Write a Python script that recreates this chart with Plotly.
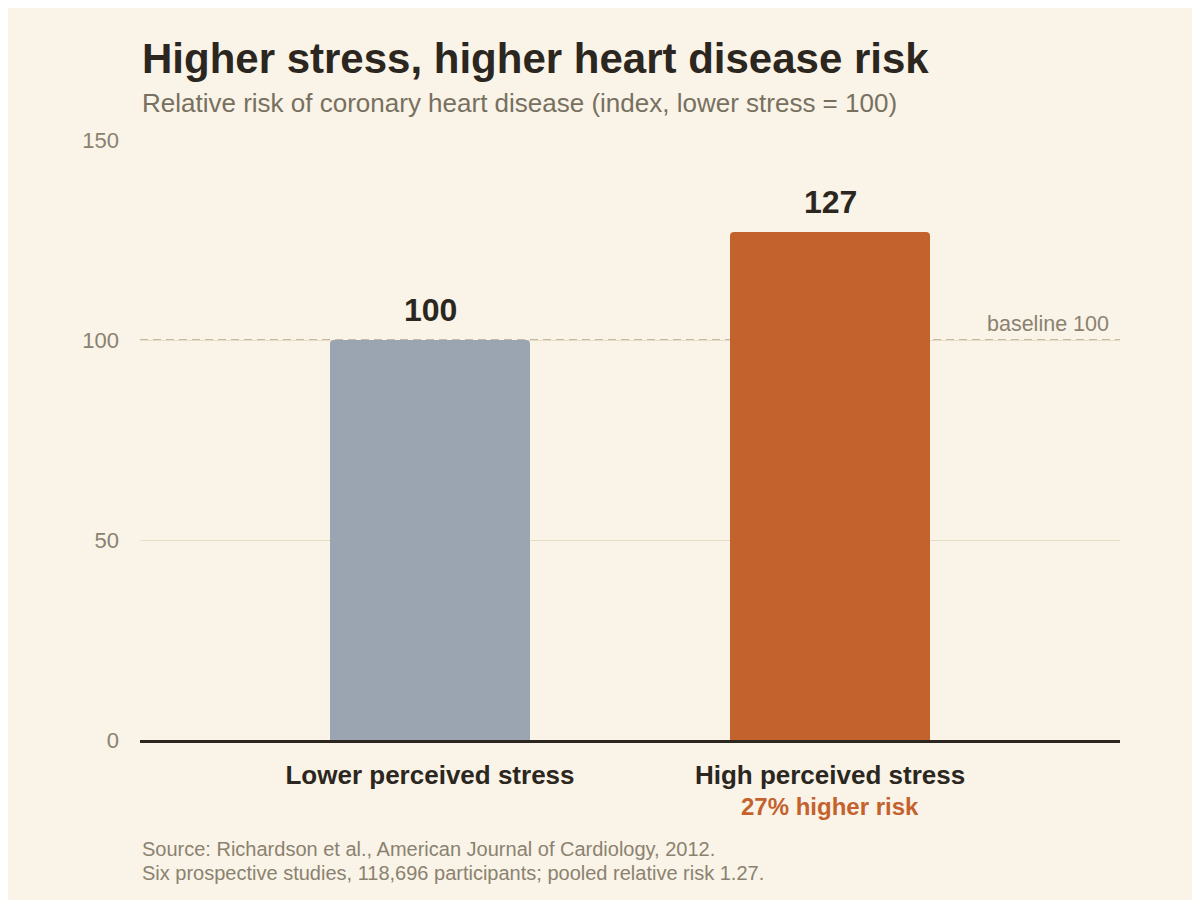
import plotly.graph_objects as go

# données
categories = ["Lower perceived stress", "High perceived stress"]
risk_index = [100, 127]
bar_colors = ["#9AA5B1", "#C4622D"]
y_ticks = [0, 50, 100, 150]
baseline = 100

BG = "#FAF3E7"
INK = "#2B2720"
MUTED = "#8A8270"
FONT = "Liberation Sans, Arial, sans-serif"

fig = go.Figure(go.Bar(
    x=categories, y=risk_index,
    width=0.5,
    marker=dict(color=bar_colors, cornerradius=4, line=dict(width=0)),
    cliponaxis=False, hoverinfo="skip",
))

# étiquettes de valeur au-dessus des barres
for cat, val in zip(categories, risk_index):
    fig.add_annotation(
        x=cat, y=val, text=str(val), showarrow=False, yanchor="middle", yshift=30,
        font=dict(size=32, color=INK, family=FONT, weight="bold"),
    )

# ligne de référence pointillée, sous les barres
fig.add_shape(
    type="line", xref="paper", x0=0, x1=1, yref="y", y0=baseline, y1=baseline,
    line=dict(color="#B3A98F", width=1.3, dash="8px,5px"), layer="below",
)
fig.add_annotation(
    xref="paper", x=0.991, y=baseline, yref="y", text=f"baseline {baseline}",
    showarrow=False, xanchor="right", yanchor="bottom", yshift=2,
    font=dict(size=21.5, color=MUTED, family=FONT),
)

# note sous la 2e catégorie
fig.add_annotation(
    x=categories[1], xref="x", yref="paper", y=0, yshift=-66,
    text="27% higher risk", showarrow=False, yanchor="middle",
    font=dict(size=24, color="#C4622D", family=FONT, weight="bold"),
)

fig.add_annotation(
    xref="paper", yref="paper", x=0, y=1, xanchor="left", yanchor="middle",
    yshift=82, text="Higher stress, higher heart disease risk", showarrow=False,
    font=dict(size=42, color=INK, family=FONT, weight="bold"),
)
fig.add_annotation(
    xref="paper", yref="paper", x=0, y=1, xanchor="left", yanchor="middle",
    yshift=37, text="Relative risk of coronary heart disease (index, lower stress = 100)",
    showarrow=False, font=dict(size=26, color="#77705F", family=FONT),
)
source_lines = [
    "Source: Richardson et al., American Journal of Cardiology, 2012.",
    "Six prospective studies, 118,696 participants; pooled relative risk 1.27.",
]
for i, line in enumerate(source_lines):
    fig.add_annotation(
        xref="paper", yref="paper", x=0, y=0, xanchor="left", yanchor="middle",
        yshift=-109 - 24 * i, text=line, showarrow=False,
        font=dict(size=20, color=MUTED, family=FONT),
    )

# la page ajoute 8 px de marge au body : on compense
fig.update_layout(
    width=1192, height=892,
    paper_bgcolor=BG, plot_bgcolor=BG,
    margin=dict(l=132, r=80, t=132, b=160),
    showlegend=False,
    font=dict(family=FONT),
    xaxis=dict(
        range=[-0.725, 1.725], showgrid=False, zeroline=False,
        showline=True, linecolor=INK, linewidth=2.5,
        ticks="", ticklabelstandoff=10,
        tickfont=dict(size=26, color=INK, family=FONT, weight="bold"),
    ),
    yaxis=dict(
        range=[0, 150], tickvals=y_ticks, showgrid=True, gridcolor="#E6DDC3",
        gridwidth=1.2, zeroline=False, showline=False, ticks="",
        ticklabelstandoff=20, tickfont=dict(size=22, color=MUTED, family=FONT),
    ),
)

fig.write_html("out.html")
